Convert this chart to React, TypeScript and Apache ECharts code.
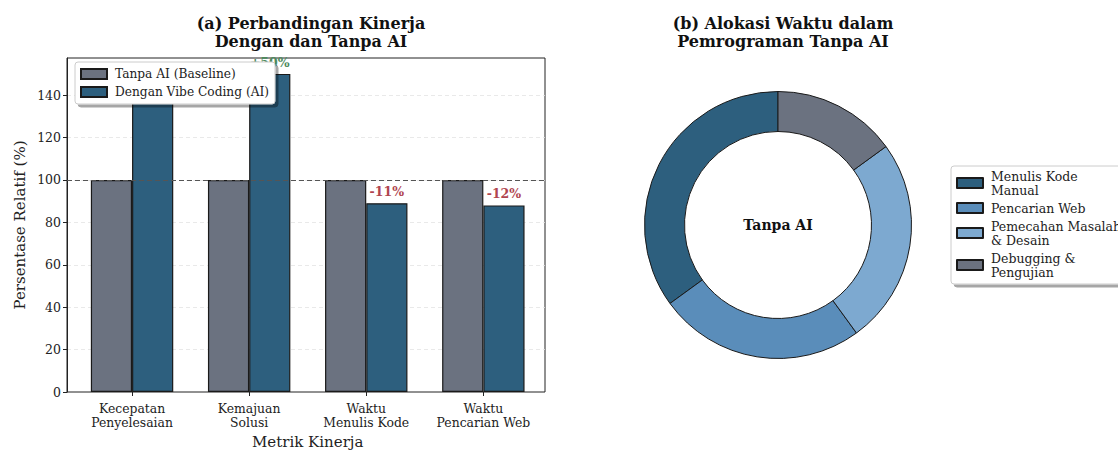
import React, { useEffect, useRef } from "react";
import * as echarts from "echarts";

const categories = [
  "Kecepatan\nPenyelesaian",
  "Kemajuan\nSolusi",
  "Waktu\nMenulis Kode",
  "Waktu\nPencarian Web",
];
const baselineName = "Tanpa AI (Baseline)";
const aiName = "Dengan Vibe Coding (AI)";
const baselineValues = [100, 100, 100, 100];
const aiValues = [145, 150, 89, 88];
// the first bar's change label sits behind the legend in the reference
const labelVisible = [false, true, true, true];
const yMax = 157.5;
const yInterval = 20;

const pieNames = [
  "Menulis Kode\nManual",
  "Pencarian Web",
  "Pemecahan Masalah\n& Desain",
  "Debugging &\nPengujian",
];
const pieValues = [35, 25, 25, 15];
const pieColors = ["#2D5F7E", "#5A8DBA", "#7DA9D0", "#6B7280"];

const titleA = "(a) Perbandingan Kinerja\nDengan dan Tanpa AI";
const titleB = "(b) Alokasi Waktu dalam\nPemrograman Tanpa AI";
const donutLabel = "Tanpa AI";

const FONT = "DejaVu Serif";
const GREY = "#6B7280";
const BLUE = "#2D5F7E";
const EDGE = "#1a1a1a";

export default function App() {
  const ref = useRef<HTMLDivElement>(null);
  useEffect(() => {
    if (!ref.current) return;
    const chart = echarts.init(ref.current, null, { renderer: "svg" });

    const aiData = aiValues.map((v, i) => {
      const diff = Math.round(v - baselineValues[i]);
      const txt = (diff >= 0 ? "+" : "") + diff + "%";
      return {
        value: v,
        label: {
          show: labelVisible[i],
          formatter: txt,
          color: diff >= 0 ? "#4E8A5C" : "#B0444F",
        },
      };
    });

    const legendCommon = {
      orient: "vertical",
      itemWidth: 26,
      itemHeight: 10,
      itemGap: 4,
      icon: "rect",
      backgroundColor: "#ffffff",
      borderColor: "#cccccc",
      borderWidth: 1,
      borderRadius: 3,
      shadowColor: "rgba(0,0,0,0.35)",
      shadowOffsetX: 3,
      shadowOffsetY: 3,
      shadowBlur: 0,
      selectedMode: false,
    };

    const titleStyle = { fontFamily: FONT, fontSize: 16, fontWeight: "bold", color: "#111", lineHeight: 18 };

    const option: any = {
      animation: false,
      backgroundColor: "#ffffff",
      textStyle: { fontFamily: FONT },
      title: [
        { text: titleA, left: 306, top: 9, textAlign: "center", textStyle: titleStyle },
        { text: titleB, left: 778, top: 9, textAlign: "center", textStyle: titleStyle },
      ],
      grid: [
        { left: 73.5, top: 58, width: 468.4, height: 334, outerBoundsMode: "none", containLabel: false },
        {
          left: 67, top: 58, width: 478, height: 334, outerBoundsMode: "none", containLabel: false,
          show: true, borderColor: "#222", borderWidth: 1, backgroundColor: "transparent",
        },
      ],
      xAxis: [
        {
          gridIndex: 0,
          type: "category",
          data: categories,
          axisLine: { show: false },
          axisTick: { show: true, alignWithLabel: true, length: 4, lineStyle: { color: "#222" } },
          axisLabel: { interval: 0, fontFamily: FONT, fontSize: 12.4, color: "#222", margin: 10, lineHeight: 13.5 },
          name: "Metrik Kinerja",
          nameLocation: "middle",
          nameGap: 42,
          nameTextStyle: { fontFamily: FONT, fontSize: 15, color: "#222" },
        },
        { gridIndex: 1, type: "value", min: 0, max: 1, show: false },
      ],
      yAxis: [
        { gridIndex: 0, type: "value", min: 0, max: yMax, show: false, splitLine: { show: false } },
        {
          gridIndex: 1,
          type: "value",
          min: 0,
          max: yMax,
          interval: yInterval,
          axisLine: { show: true, lineStyle: { color: "#222" } },
          axisTick: { show: true, length: 4, lineStyle: { color: "#222" } },
          axisLabel: { fontFamily: FONT, fontSize: 12.5, color: "#222", margin: 6, showMaxLabel: false },
          splitLine: { show: true, showMaxLine: false, showMinLine: false, lineStyle: { color: "#e3e3e3", type: [4, 3], width: 0.8 } },
          name: "Persentase Relatif (%)",
          nameLocation: "middle",
          nameGap: 40,
          nameTextStyle: { fontFamily: FONT, fontSize: 15, color: "#222" },
        },
      ],
      legend: [
        {
          ...legendCommon,
          data: [baselineName, aiName],
          left: 75,
          top: 62,
          padding: [5, 6, 5, 5],
          textStyle: { fontFamily: FONT, fontSize: 12.2, color: "#222", lineHeight: 14, padding: [0, 0, 0, 3] },
        },
        {
          ...legendCommon,
          data: pieNames,
          left: 951,
          top: 166,
          padding: [3, 8, 5, 5],
          textStyle: { fontFamily: FONT, fontSize: 12.5, color: "#222", lineHeight: 14, padding: [0, 0, 0, 3] },
        },
      ],
      graphic: [
        {
          type: "text",
          x: 778,
          y: 225,
          style: {
            text: donutLabel,
            align: "center",
            verticalAlign: "middle",
            fontFamily: FONT,
            fontSize: 14,
            fontWeight: "bold",
            fill: "#111",
          },
        },
      ],
      series: [
        {
          type: "bar",
          name: baselineName,
          xAxisIndex: 0,
          yAxisIndex: 0,
          data: baselineValues,
          barWidth: 41.2,
          barGap: "0%",
          itemStyle: { color: GREY, borderColor: EDGE, borderWidth: 1.2 },
          emphasis: { disabled: true },
          z: 2,
        },
        {
          type: "bar",
          name: aiName,
          xAxisIndex: 0,
          yAxisIndex: 0,
          data: aiData,
          barWidth: 41.2,
          barGap: "0%",
          itemStyle: { color: BLUE, borderColor: EDGE, borderWidth: 1.2 },
          label: {
            show: true,
            position: "top",
            distance: 5,
            fontFamily: FONT,
            fontSize: 12.5,
            fontWeight: "bold",
          },
          emphasis: { disabled: true },
          z: 2,
        },
        {
          type: "line",
          name: "ref",
          xAxisIndex: 1,
          yAxisIndex: 1,
          data: [],
          z: 5,
          markLine: {
            silent: true,
            symbol: "none",
            label: { show: false },
            lineStyle: { color: "#555", type: [5, 3], width: 1.2 },
            data: [{ yAxis: 100 }],
          },
        },
        {
          type: "pie",
          center: [778, 225],
          radius: [93.5, 133.5],
          startAngle: 90,
          clockwise: false,
          label: { show: false },
          labelLine: { show: false },
          emphasis: { disabled: true },
          itemStyle: { borderColor: EDGE, borderWidth: 1 },
          data: pieNames.map((n, i) => ({
            name: n,
            value: pieValues[i],
            itemStyle: { color: pieColors[i] },
          })),
        },
      ],
    };

    chart.setOption(option);
    return () => chart.dispose();
  }, []);

  return (
    <div
      ref={ref}
      style={{ position: "absolute", left: 0, top: 0, width: 1118, height: 450 }}
    />
  );
}
